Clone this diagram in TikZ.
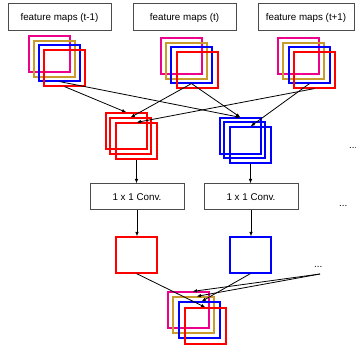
\documentclass[tikz,border=0pt]{standalone}
\usepackage{fontspec}
\setmainfont{Liberation Sans}
\usetikzlibrary{arrows.meta}
\definecolor{fmgold}{RGB}{200,155,45}

\begin{document}
\begin{tikzpicture}[
        x=1pt, y=-1pt,
        every node/.style={font=\fontsize{9.8}{12}\selectfont},
        % boxes with text
        titlebox/.style={draw=black!70, line width=1pt, fill=white, minimum height=27pt, inner sep=0pt},
        % one feature map
        fmap/.style={draw=#1, line width=1.15pt, minimum width=41pt, minimum height=36pt, inner sep=0pt},
        link/.style={black, line width=0.8pt, -{Latex[length=4.5pt,width=3.5pt]}},
        dotsnode/.style={inner sep=0pt, anchor=base west}
    ]
        \useasboundingbox (0,0) rectangle (356,347);

        % Input boxes
        \node[titlebox, minimum width=103pt] (inA) at (59.5,17.5) {feature maps (t-1)};
        \node[titlebox, minimum width=103pt] (inB) at (184.5,17.5) {feature maps (t)};
        \node[titlebox, minimum width=96pt] (inC) at (306,17.5) {feature maps (t+1)};

        % Input feature map stacks
        \node[fmap=magenta] (aM) at (49.5,54) {};
        \node[fmap=fmgold] (aG) at (54.5,59) {};
        \node[fmap=blue] (aB) at (59.5,63) {};
        \node[fmap=red] (aR) at (64.5,68) {};

        \node[fmap=magenta] (bM) at (181.5,56) {};
        \node[fmap=fmgold] (bG) at (186.5,61) {};
        \node[fmap=blue] (bB) at (191.5,65) {};
        \node[fmap=red] (bR) at (197.5,70) {};

        \node[fmap=magenta] (cM) at (298.5,56) {};
        \node[fmap=fmgold] (cG) at (303.5,61) {};
        \node[fmap=blue] (cB) at (309.5,65) {};
        \node[fmap=red] (cR) at (314.5,70) {};

        % Grouped stacks (one channel over time)
        \node[fmap=red] (rs1) at (126.5,131) {};
        \node[fmap=red] (rs2) at (130.5,136) {};
        \node[fmap=red] (rs3) at (136.5,141) {};

        \node[fmap=blue] (bs1) at (240.5,136) {};
        \node[fmap=blue] (bs2) at (244.5,140) {};
        \node[fmap=blue] (bs3) at (250.5,145) {};

        % Convolution boxes
        \node[titlebox, minimum width=94pt, minimum height=26pt] (convR) at (137,197) {1 x 1 Conv.};
        \node[titlebox, minimum width=94pt, minimum height=26pt] (convB) at (251,197) {1 x 1 Conv.};

        % Outputs of the convolutions
        \node[fmap=red] (outR) at (136.5,255) {};
        \node[fmap=blue] (outB) at (250.5,255) {};

        % Resulting stack
        \node[fmap=magenta] (fM) at (188.5,310) {};
        \node[fmap=fmgold] (fG) at (193.5,315) {};
        \node[fmap=blue] (fB) at (199.5,320) {};
        \node[fmap=red] (fR) at (205.5,326) {};

        % Dots for further channels
        \node[dotsnode] (dotsA) at (349,148.5) {...};
        \node[dotsnode] (dotsB) at (339,206.5) {...};
        \node[dotsnode] (dotsC) at (314,267.5) {...};
        \coordinate (dotsCend) at (320,274);

        % Connections from the inputs
        \draw[link] (aB.south) -- (bs1.north);
        \draw[link] (aR.south) -- (rs1.north);
        \draw[link] (bB.south) -- (rs2.north);
        \draw[link] (bB.south) -- (bs1.north);
        \draw[link] (cB.south) -- (bs3.north);
        \draw[link] (cR.south) -- (rs3.north);

        % Through the convolutions
        \draw[link] (rs3.south) -- (rs3.south |- convR.north);
        \draw[link] (bs3.south) -- (bs3.south |- convB.north);
        \draw[link] (convR.south) -- (convR.south |- outR.north);
        \draw[link] (convB.south) -- (convB.south |- outB.north);

        % Back to one stack
        \draw[link] (outR.south) -- (fR.north);
        \draw[link] (outB.south) -- ([xshift=2pt]fB.north);
        \draw[link] (dotsCend) -- ([xshift=4pt]fM.north);
        \draw[link] (dotsCend) -- ([xshift=3pt]fG.north);
    \end{tikzpicture}
\end{document}
